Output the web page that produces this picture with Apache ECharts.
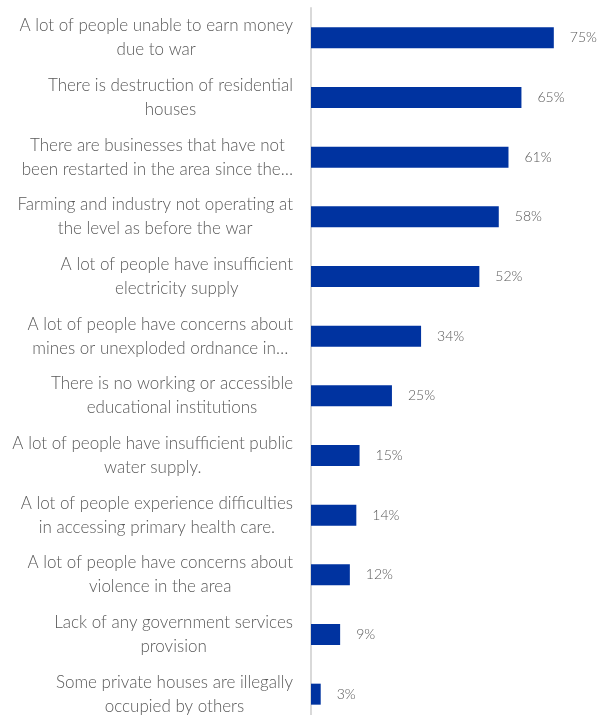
<!DOCTYPE html>
<html>
<head>
<meta charset="utf-8">
<script src="https://cdn.jsdelivr.net/npm/echarts@6/dist/echarts.min.js"></script>
<style>
  html, body { margin: 0; padding: 0; background: #ffffff; overflow: hidden; }
  /* canvas runs a little past the bottom of the view, as the last row is cut off */
  #chart { width: 599px; height: 724px; }
</style>
</head>
<body>
<div id="chart"></div>
<script>
// Each category is given as its two display lines
const categories = [
  ['A lot of people unable to earn money', 'due to war'],
  ['There is destruction of residential', 'houses'],
  ['There are businesses that have not', 'been restarted in the area since the\u2026'],
  ['Farming and industry not operating at', 'the level as before the war'],
  ['A lot of people have insufficient', 'electricity supply'],
  ['A lot of people have concerns about', 'mines or unexploded ordnance in\u2026'],
  ['There is no working or accessible', 'educational institutions'],
  ['A lot of people have insufficient public', 'water supply.'],
  ['A lot of people experience difficulties', 'in accessing primary health care.'],
  ['A lot of people have concerns about', 'violence in the area'],
  ['Lack of any government services', 'provision'],
  ['Some private houses are illegally', 'occupied by others']
];

// Share of respondents, percent
const shares = [75, 65, 61, 58, 52, 34, 25, 15, 14, 12, 9, 3];

const labelKeys = categories.map((_, i) => 'c' + i);

const chart = echarts.init(document.getElementById('chart'), null, { renderer: 'canvas' });

chart.setOption({
  animation: false,
  backgroundColor: '#ffffff',
  grid: { left: 311, top: 8, width: 259, bottom: 0, containLabel: false },
  xAxis: {
    type: 'value',
    min: 0,
    max: 80,
    show: false
  },
  yAxis: {
    type: 'category',
    inverse: true,
    data: labelKeys,
    axisLine: { show: true, lineStyle: { color: '#d9d9d9', width: 2 } },
    axisTick: { show: false },
    splitLine: { show: false },
    axisLabel: {
      margin: 18,
      align: 'right',
      formatter: function (key) {
        const idx = labelKeys.indexOf(key);
        return categories[idx].map(line => '{t|' + line + '}').join('\n');
      },
      rich: {
        t: {
          align: 'center',
          fontFamily: 'Lato',
          fontWeight: 300,
          fontSize: 17,
          lineHeight: 24,
          color: '#595959'
        }
      }
    }
  },
  series: [{
    type: 'bar',
    data: shares,
    barWidth: 21,
    itemStyle: { color: '#0033a0' },
    label: {
      show: true,
      position: 'right',
      distance: 16,
      formatter: '{c}%',
      fontFamily: 'Lato',
      fontWeight: 300,
      fontSize: 14,
      color: '#595959'
    }
  }]
});
</script>
</body>
</html>
